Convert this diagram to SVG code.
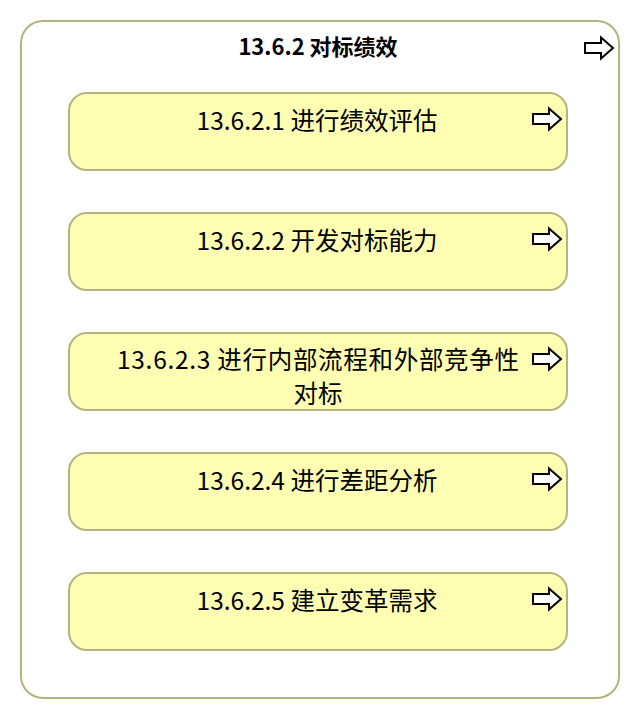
<svg xmlns="http://www.w3.org/2000/svg" width="640" height="720" viewBox="0 0 640 720">
<style>
.outer{fill:#ffffff;stroke:#b3b37d;stroke-width:2}
.box{fill:#ffffb3;stroke:#b3b37d;stroke-width:2}
.t{font-family:"Noto Sans CJK SC","Noto Sans",sans-serif;fill:#000;text-anchor:middle}
.title{font-size:22px;font-weight:bold}
.lbl{font-size:24.5px}
.arr{fill:#fff;stroke:#000;stroke-width:2;stroke-linejoin:miter}
</style>
<defs>
<path id="arrow" d="M0,-5 H16 V-10.5 L28,0 L16,10.5 V5 H0 Z"/>
</defs>
<g id="n0">
<rect class="outer" x="21" y="21" width="598" height="677" rx="22" ry="22"/>
<text class="t title" x="318" y="55">13.6.2 对标绩效</text>
<use href="#arrow" class="arr" x="585" y="48"/>
</g>
<g id="n1">
<rect class="box" x="69" y="93" width="498" height="77" rx="18" ry="18"/>
<text class="t lbl" x="317" y="130">13.6.2.1 进行绩效评估</text>
<use href="#arrow" class="arr" x="533" y="119"/>
</g>
<g id="n2">
<rect class="box" x="69" y="213" width="498" height="77" rx="18" ry="18"/>
<text class="t lbl" x="317" y="250">13.6.2.2 开发对标能力</text>
<use href="#arrow" class="arr" x="533" y="239"/>
</g>
<g id="n3">
<rect class="box" x="69" y="333" width="498" height="77" rx="18" ry="18"/>
<text class="t lbl" x="318" y="369" textLength="402" lengthAdjust="spacing">13.6.2.3 进行内部流程和外部竞争性</text>
<text class="t lbl" x="318" y="403">对标</text>
<use href="#arrow" class="arr" x="533" y="359"/>
</g>
<g id="n4">
<rect class="box" x="69" y="453" width="498" height="77" rx="18" ry="18"/>
<text class="t lbl" x="317" y="490">13.6.2.4 进行差距分析</text>
<use href="#arrow" class="arr" x="533" y="479"/>
</g>
<g id="n5">
<rect class="box" x="69" y="573" width="498" height="77" rx="18" ry="18"/>
<text class="t lbl" x="317" y="610">13.6.2.5 建立变革需求</text>
<use href="#arrow" class="arr" x="533" y="599"/>
</g>
<g id="connectors"/>
</svg>
